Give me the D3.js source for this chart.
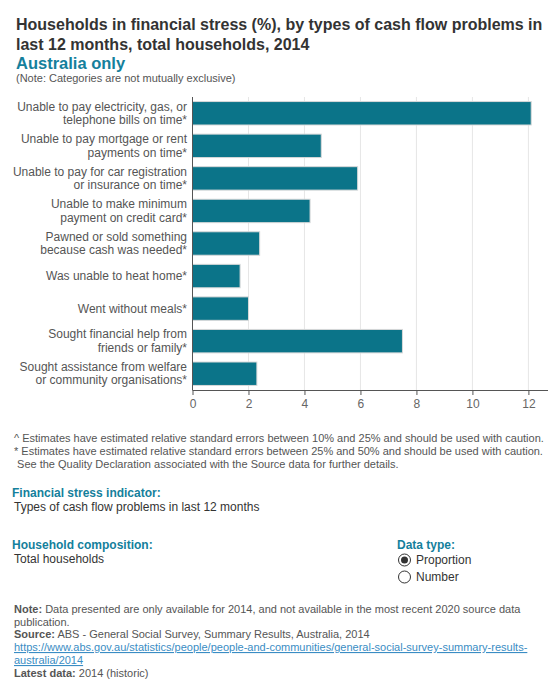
<!DOCTYPE html>
<head>
  <meta charset="utf-8">
  <title>Households in financial stress by types of cash flow problems</title>
  <style>
    body { margin: 0; background: #fff; }
    svg text { font-family: Arial, "Liberation Sans", sans-serif; }
    .axis path, .axis line { stroke: #555; }
    .axis text { fill: #666; font-size: 12px; }
  </style>
</head>

<body>
  <script src="https://cdn.jsdelivr.net/npm/d3@7"></script>
  <script>
    // chart data
    var categories = [
      ["Unable to pay electricity, gas, or", "telephone bills on time*"],
      ["Unable to pay mortgage or rent", "payments on time*"],
      ["Unable to pay for car registration", "or insurance on time*"],
      ["Unable to make minimum", "payment on credit card*"],
      ["Pawned or sold something", "because cash was needed*"],
      ["Was unable to heat home*"],
      ["Went without meals*"],
      ["Sought financial help from", "friends or family*"],
      ["Sought assistance from welfare", "or community organisations*"]
    ];
    var values = [12.1, 4.6, 5.9, 4.2, 2.4, 1.7, 2.0, 7.5, 2.3];
    var xTicks = [0, 2, 4, 6, 8, 10, 12];

    var footnotes = [
      "^ Estimates have estimated relative standard errors between 10% and 25% and should be used with caution.",
      "* Estimates have estimated relative standard errors between 25% and 50% and should be used with caution.",
      " See the Quality Declaration associated with the Source data for further details."
    ];

    var w = 560, h = 700;
    var plotLeft = 192.5, plotRight = 548, plotTop = 97, plotBottom = 390;
    var barColor = "#0b7489", teal = "#14809c";

    var svg = d3.select("body").append("svg").attr("width", w).attr("height", h);

    // titles
    svg.append("text").attr("x", 16).attr("y", 30).attr("font-size", 16).attr("font-weight", "bold")
      .attr("fill", "#333").text("Households in financial stress (%), by types of cash flow problems in");
    svg.append("text").attr("x", 16).attr("y", 50).attr("font-size", 16).attr("font-weight", "bold")
      .attr("fill", "#333").text("last 12 months, total households, 2014");
    svg.append("text").attr("x", 16).attr("y", 69).attr("font-size", 16.5).attr("font-weight", "bold")
      .attr("fill", teal).text("Australia only");
    svg.append("text").attr("x", 16).attr("y", 82).attr("font-size", 11)
      .attr("fill", "#555").text("(Note: Categories are not mutually exclusive)");

    // scales
    var x = d3.scaleLinear().domain([0, 12.7]).range([plotLeft, plotRight]);
    var y = d3.scaleBand().domain(d3.range(categories.length)).range([plotTop, plotBottom])
      .paddingInner(0.28).paddingOuter(0.14);

    // gridlines
    svg.selectAll("line.grid").data(xTicks.slice(1)).enter().append("line")
      .attr("class", "grid")
      .attr("x1", function(d) { return x(d); }).attr("x2", function(d) { return x(d); })
      .attr("y1", plotTop).attr("y2", plotBottom)
      .attr("stroke", "#e6e6e6").attr("stroke-width", 1);

    // bars
    svg.selectAll("rect.bar").data(values).enter().append("rect")
      .attr("class", "bar")
      .attr("x", x(0))
      .attr("y", function(d, i) { return y(i); })
      .attr("width", function(d) { return x(d) - x(0); })
      .attr("height", y.bandwidth())
      .attr("fill", barColor)
      .attr("stroke", "#d9d9d9").attr("stroke-width", 1);

    // x axis
    var xAxis = d3.axisBottom(x).tickValues(xTicks).tickSize(5).tickPadding(4).tickFormat(d3.format("d"));
    var gx = svg.append("g").attr("class", "axis").attr("transform", "translate(0," + plotBottom + ")").call(xAxis);
    gx.select(".domain").attr("d", "M" + plotLeft + ",0.5H" + plotRight);

    // y axis line
    svg.append("line").attr("x1", plotLeft).attr("x2", plotLeft).attr("y1", plotTop).attr("y2", plotBottom)
      .attr("stroke", "#555");

    // category labels
    var labels = svg.selectAll("text.cat").data(categories).enter().append("text")
      .attr("class", "cat")
      .attr("text-anchor", "end")
      .attr("font-size", 12)
      .attr("fill", "#555");
    labels.each(function(d, i) {
      var cy = y(i) + y.bandwidth() / 2;
      var start = cy - (d.length - 1) * 13.5 / 2;
      d3.select(this).selectAll("tspan").data(d).enter().append("tspan")
        .attr("x", 187)
        .attr("y", function(t, j) { return start + j * 13.5 + 4; })
        .text(function(t) { return t; });
    });

    // footnotes
    svg.selectAll("text.foot").data(footnotes).enter().append("text")
      .attr("class", "foot")
      .attr("x", 14).attr("y", function(d, i) { return 442 + i * 13; })
      .attr("font-size", 11).attr("fill", "#555")
      .attr("xml:space", "preserve")
      .text(function(d) { return d; });

    // filter info
    svg.append("text").attr("x", 12).attr("y", 497).attr("font-size", 12).attr("font-weight", "bold")
      .attr("fill", teal).text("Financial stress indicator:");
    svg.append("text").attr("x", 14).attr("y", 511).attr("font-size", 12)
      .attr("fill", "#333").text("Types of cash flow problems in last 12 months");

    svg.append("text").attr("x", 12).attr("y", 549).attr("font-size", 12).attr("font-weight", "bold")
      .attr("fill", teal).text("Household composition:");
    svg.append("text").attr("x", 14).attr("y", 563).attr("font-size", 12)
      .attr("fill", "#333").text("Total households");

    svg.append("text").attr("x", 397).attr("y", 549).attr("font-size", 12).attr("font-weight", "bold")
      .attr("fill", teal).text("Data type:");
    var radios = ["Proportion", "Number"];
    radios.forEach(function(r, i) {
      var cy = 560 + i * 17;
      svg.append("circle").attr("cx", 404.5).attr("cy", cy).attr("r", 6)
        .attr("fill", "#fff").attr("stroke", "#333");
      if (i === 0) svg.append("circle").attr("cx", 404.5).attr("cy", cy).attr("r", 3.5).attr("fill", "#333");
      svg.append("text").attr("x", 416).attr("y", cy + 4).attr("font-size", 12)
        .attr("fill", "#333").text(r);
    });

    // notes at bottom
    var note = svg.append("text").attr("x", 14).attr("y", 613).attr("font-size", 11).attr("fill", "#555");
    note.append("tspan").attr("font-weight", "bold").text("Note:");
    note.append("tspan").text(" Data presented are only available for 2014, and not available in the most recent 2020 source data");
    svg.append("text").attr("x", 14).attr("y", 626).attr("font-size", 11).attr("fill", "#555").text("publication.");
    var src = svg.append("text").attr("x", 14).attr("y", 638).attr("font-size", 11).attr("fill", "#555");
    src.append("tspan").attr("font-weight", "bold").text("Source:");
    src.append("tspan").text(" ABS - General Social Survey, Summary Results, Australia, 2014");
    svg.append("text").attr("x", 14).attr("y", 651).attr("font-size", 11).attr("fill", "#3a8dc4")
      .attr("text-decoration", "underline")
      .text("https://www.abs.gov.au/statistics/people/people-and-communities/general-social-survey-summary-results-");
    svg.append("text").attr("x", 14).attr("y", 664).attr("font-size", 11).attr("fill", "#3a8dc4")
      .attr("text-decoration", "underline").text("australia/2014");
    var latest = svg.append("text").attr("x", 14).attr("y", 677).attr("font-size", 11).attr("fill", "#555");
    latest.append("tspan").attr("font-weight", "bold").text("Latest data:");
    latest.append("tspan").text(" 2014 (historic)");
  </script>
</body>
